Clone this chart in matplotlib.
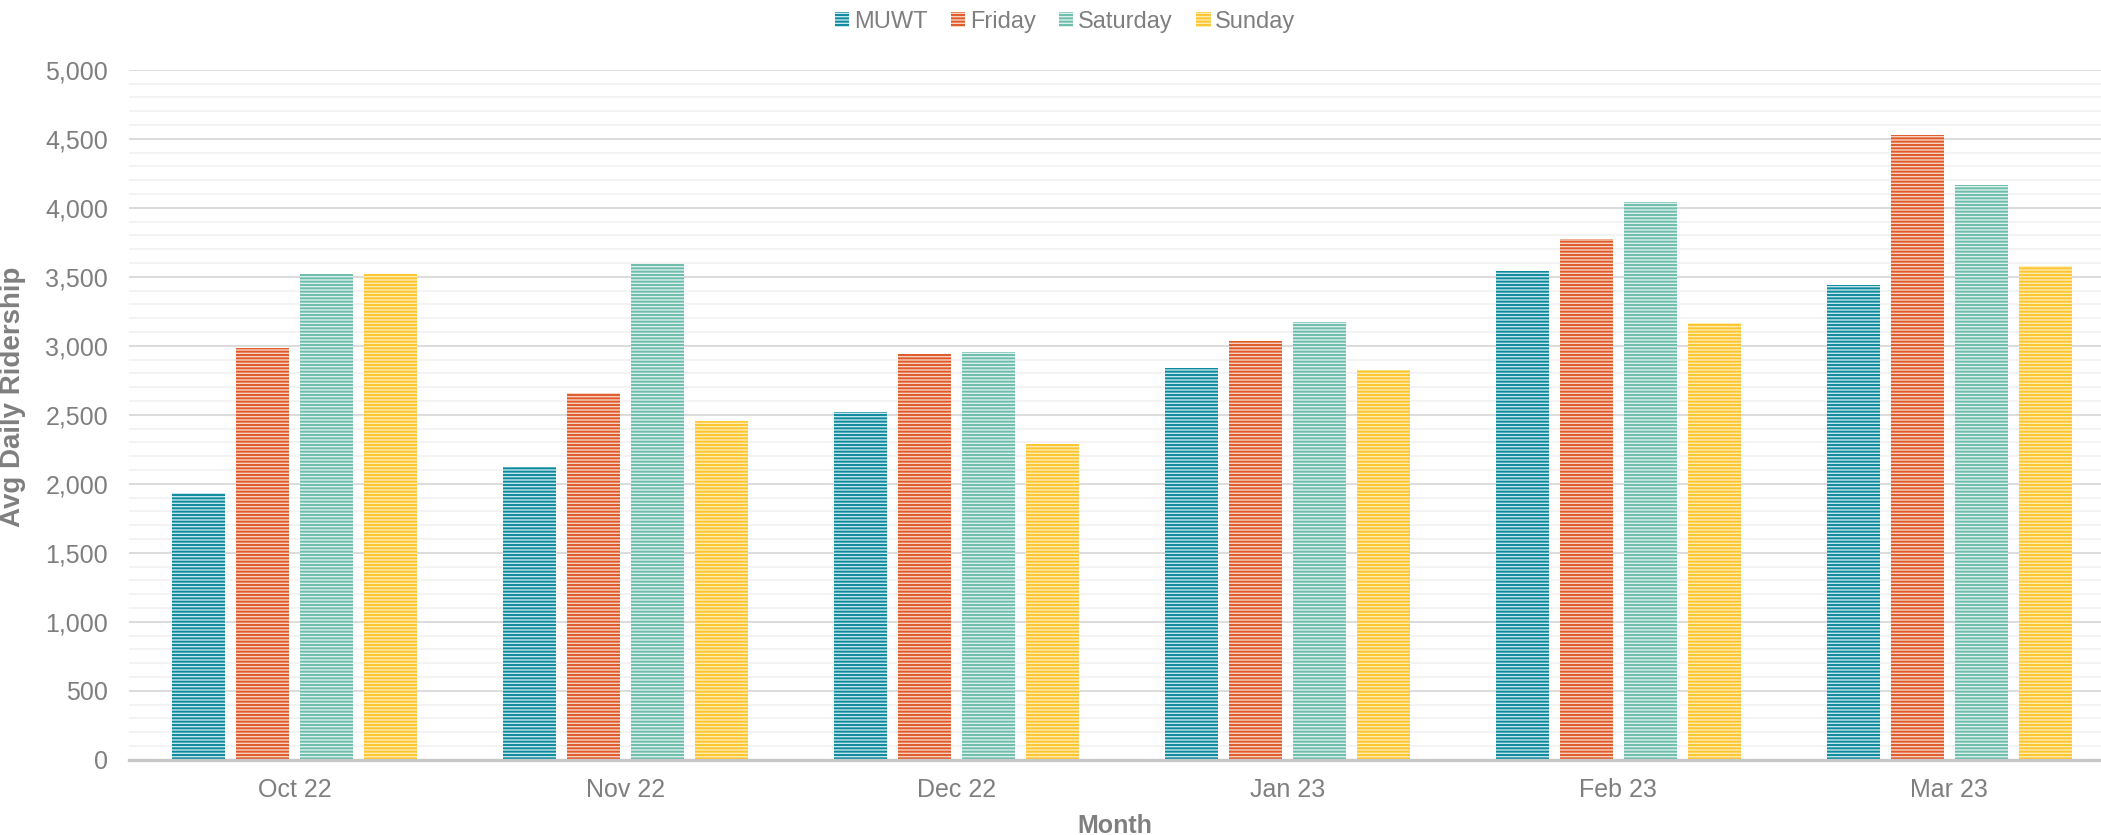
import numpy as np
import matplotlib
matplotlib.use("Agg")
import matplotlib.pyplot as plt
from matplotlib.ticker import MultipleLocator, FuncFormatter

plt.rcParams['font.family'] = ['Liberation Sans', 'DejaVu Sans']
plt.rcParams['hatch.linewidth'] = 1.4

months = ["Oct 22", "Nov 22", "Dec 22", "Jan 23", "Feb 23", "Mar 23"]
series = ["MUWT", "Friday", "Saturday", "Sunday"]
muwt = [1935, 2123, 2517, 2836, 3541, 3438]
friday = [2981, 2659, 2942, 3034, 3773, 4527]
saturday = [3520, 3592, 2952, 3172, 4039, 4162]
sunday = [3520, 2454, 2286, 2822, 3164, 3575]

# dark stripe / light stripe
dark = ["#0F8A9D", "#E05A2B", "#6DBDAC", "#FFC530"]
light = ["#C4E6EC", "#F7D3C2", "#DDF0EB", "#FFECB0"]

gray = "#7F7F7F"

fig = plt.figure(figsize=(21.01, 8.35), dpi=100)
ax = fig.add_axes([129 / 2101, 1 - 759.7 / 835, 1 - 129 / 2101, 690 / 835])

x = np.arange(len(months))
step = 0.193
width = 0.160
for i, (name, vals) in enumerate(zip(series, [muwt, friday, saturday, sunday])):
    ax.bar(x + (i - 1.5) * step, vals, width, color=light[i], edgecolor=dark[i],
           hatch='-----', linewidth=0, label=name, zorder=3)

ax.set_ylim(0, 5000)
ax.set_xlim(-0.5, 5.458)
ax.yaxis.set_major_locator(MultipleLocator(500))
ax.yaxis.set_minor_locator(MultipleLocator(100))
ax.yaxis.set_major_formatter(FuncFormatter(lambda v, p: f"{int(v):,}"))
ax.grid(axis='y', which='major', color="#D9D9D9", linewidth=1.3, zorder=0)
ax.grid(axis='y', which='minor', color="#F2F2F2", linewidth=1.3, zorder=0)
ax.set_axisbelow(True)

for s in ['top', 'right', 'left']:
    ax.spines[s].set_visible(False)
ax.spines['bottom'].set_color("#C8C8C8")
ax.spines['bottom'].set_linewidth(2.4)
ax.spines['bottom'].set_zorder(4)

ax.set_xticks(x)
ax.set_xticklabels(months)
ax.tick_params(axis='both', which='both', length=0, colors=gray, labelsize=18)
ax.tick_params(axis='y', pad=15)
ax.tick_params(axis='x', pad=13)

ax.set_xlabel("Month", fontsize=18, fontweight='bold', color=gray, labelpad=9)
ax.set_ylabel("Avg Daily Ridership", fontsize=20, fontweight='bold', color=gray)
ax.yaxis.set_label_coords(-0.052, 0.526)

fig.legend(loc='upper center', bbox_to_anchor=(0.507, 1.012), ncol=4, frameon=False,
           fontsize=17, labelcolor=gray, handlelength=0.6, handleheight=0.6,
           handletextpad=0.2, columnspacing=1.0)

fig.savefig("out.png", dpi=100)
